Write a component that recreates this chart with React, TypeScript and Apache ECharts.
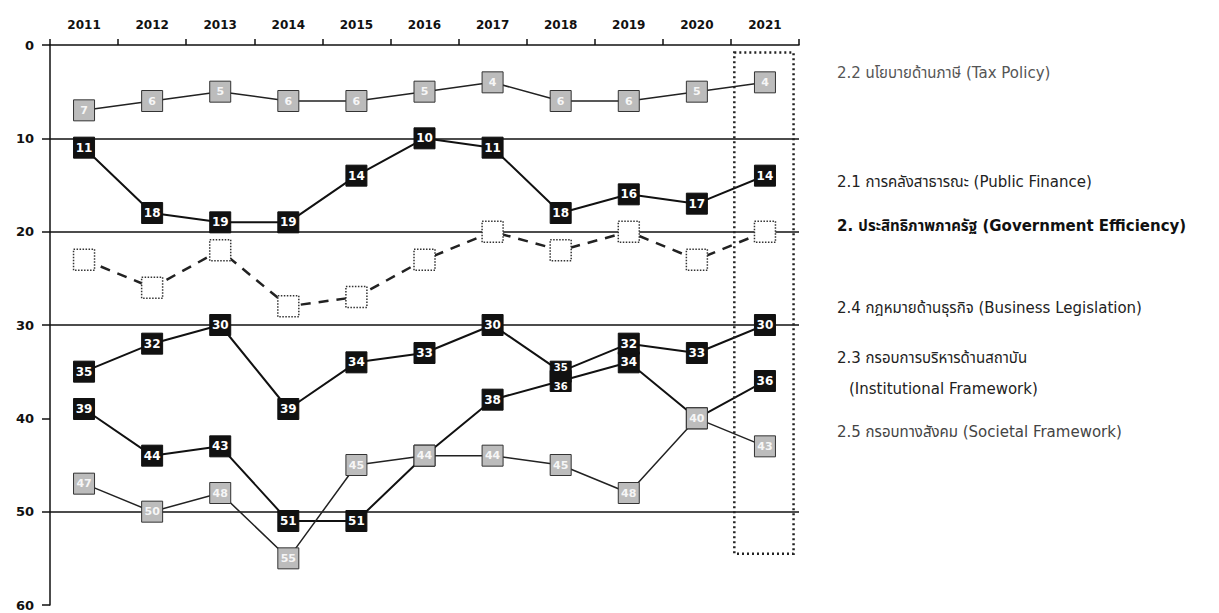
import React, { useEffect, useRef } from "react";
import * as echarts from "echarts";

const years = ["2011", "2012", "2013", "2014", "2015", "2016", "2017", "2018", "2019", "2020", "2021"];
const taxPolicy = [7, 6, 5, 6, 6, 5, 4, 6, 6, 5, 4];
const publicFinance = [11, 18, 19, 19, 14, 10, 11, 18, 16, 17, 14];
const govEfficiency = [23, 26, 22, 28, 27, 23, 20, 22, 20, 23, 20];
const businessLegislation = [35, 32, 30, 39, 34, 33, 30, 35, 32, 33, 30];
const institutionalFramework = [39, 44, 43, 51, 51, 44, 38, 36, 34, 40, 36];
const societalFramework = [47, 50, 48, 55, 45, 44, 44, 45, 48, 40, 43];
const gridLineValues = [10, 20, 30, 50];

const legendItems = [
  { text: "2.2 นโยบายด้านภาษี (Tax Policy)", y: 75, color: "#555", weight: "normal" },
  { text: "2.1 การคลังสาธารณะ (Public Finance)", y: 184, color: "#222", weight: "normal" },
  { text: "2. ประสิทธิภาพภาครัฐ (Government Efficiency)", y: 228, color: "#111", weight: "bold" },
  { text: "2.4 กฎหมายด้านธุรกิจ (Business Legislation)", y: 310, color: "#222", weight: "normal" },
  { text: "2.3 กรอบการบริหารด้านสถาบัน", y: 360, color: "#222", weight: "normal" },
  { text: "(Institutional Framework)", y: 391, color: "#222", weight: "normal", indent: 12 },
  { text: "2.5 กรอบทางสังคม (Societal Framework)", y: 434, color: "#444", weight: "normal" },
];

const FONT = "'DejaVu Sans', 'Noto Sans', 'Noto Sans Thai', sans-serif";

function darkSeries(name: string, data: number[], z: number, offsets: Record<number, number> = {}) {
  return {
    name,
    type: "line",
    data: data.map((v, i) =>
      offsets[i] !== undefined
        ? { value: v, label: { offset: [0, offsets[i]], fontSize: 10 } }
        : v
    ),
    z,
    symbol: "rect",
    symbolSize: [21, 21],
    lineStyle: { color: "#111", width: 2 },
    itemStyle: { color: "#111", borderColor: "#111", borderWidth: 1 },
    label: {
      show: true,
      position: "inside",
      color: "#fff",
      fontSize: 12,
      fontWeight: "bold",
      fontFamily: FONT,
    },
  };
}

function greySeries(name: string, data: number[], z: number) {
  return {
    name,
    type: "line",
    data,
    z,
    symbol: "rect",
    symbolSize: [21, 21],
    lineStyle: { color: "#222", width: 1.5 },
    itemStyle: { color: "#bcbcbc", borderColor: "#333", borderWidth: 1 },
    label: {
      show: true,
      position: "inside",
      color: "#f6f6f6",
      fontSize: 11,
      fontWeight: "bold",
      fontFamily: FONT,
    },
  };
}

export default function App() {
  const ref = useRef<HTMLDivElement>(null);
  useEffect(() => {
    if (!ref.current) return;
    const chart = echarts.init(ref.current, null, { renderer: "svg" });
    const option: any = {
      animation: false,
      backgroundColor: "#fff",
      grid: { left: 50, right: 420, top: 45, bottom: 8 },
      xAxis: {
        type: "category",
        data: years,
        position: "top",
        boundaryGap: true,
        axisLine: { show: true, lineStyle: { color: "#111", width: 1.5 } },
        axisTick: { show: true, length: 6, inside: false, lineStyle: { color: "#111", width: 1.5 } },
        axisLabel: { color: "#111", fontSize: 12, fontWeight: "bold", fontFamily: FONT, margin: 14 },
        splitLine: { show: false },
      },
      yAxis: {
        type: "value",
        inverse: true,
        min: 0,
        max: 60,
        interval: 10,
        axisLine: { show: true, lineStyle: { color: "#111", width: 1.5 } },
        axisTick: { show: true, length: 8, lineStyle: { color: "#111", width: 1.5 } },
        axisLabel: { color: "#111", fontSize: 13, fontWeight: "bold", fontFamily: FONT, margin: 16 },
        splitLine: { show: false },
      },
      series: [
        {
          name: "gridlines",
          type: "line",
          data: [],
          silent: true,
          z: 1,
          markLine: {
            silent: true,
            z: 1,
            symbol: "none",
            label: { show: false },
            lineStyle: { color: "#111", width: 1.5, type: "solid" },
            data: gridLineValues.map((v) => ({ yAxis: v })),
          },
        },
        greySeries("2.2 Tax Policy", taxPolicy, 5),
        darkSeries("2.1 Public Finance", publicFinance, 6),
        {
          name: "2. Government Efficiency",
          type: "line",
          data: govEfficiency,
          z: 5,
          symbol: "rect",
          symbolSize: [21, 21],
          lineStyle: { color: "#222", width: 2.5, type: [10, 8] },
          itemStyle: { color: "#fff", borderColor: "#333", borderWidth: 1.5, borderType: "dotted" },
          label: { show: false },
        },
        darkSeries("2.3 Institutional Framework", institutionalFramework, 4, { 7: 5 }),
        darkSeries("2.4 Business Legislation", businessLegislation, 4, { 7: -4 }),
        greySeries("2.5 Societal Framework", societalFramework, 5),
      ],
      graphic: legendItems.map((it: any) => ({
        type: "text",
        left: 837 + (it.indent || 0),
        top: it.y - 10,
        style: {
          text: it.text,
          fill: it.color,
          fontSize: 15,
          fontWeight: it.weight,
          fontFamily: FONT,
        },
      })),
    };
    chart.setOption(option);

    const cx = chart.convertToPixel({ xAxisIndex: 0 }, "2021") as number;
    const px = chart.convertToPixel({ xAxisIndex: 0 }, "2020") as number;
    const band = cx - px;
    const yTop = chart.convertToPixel({ yAxisIndex: 0 }, 0.8) as number;
    const yBot = chart.convertToPixel({ yAxisIndex: 0 }, 54.5) as number;
    chart.setOption({
      graphic: [
        ...option.graphic,
        {
          type: "rect",
          shape: { x: cx - band * 0.45, y: yTop, width: band * 0.87, height: yBot - yTop },
          style: { fill: "none", stroke: "#222", lineWidth: 2.5, lineDash: [2, 3] },
          z: 10,
        },
      ],
    });

    return () => chart.dispose();
  }, []);
  return (
    <div
      ref={ref}
      style={{ position: "fixed", left: 0, top: 0, width: 1219, height: 613, background: "#fff" }}
    />
  );
}
